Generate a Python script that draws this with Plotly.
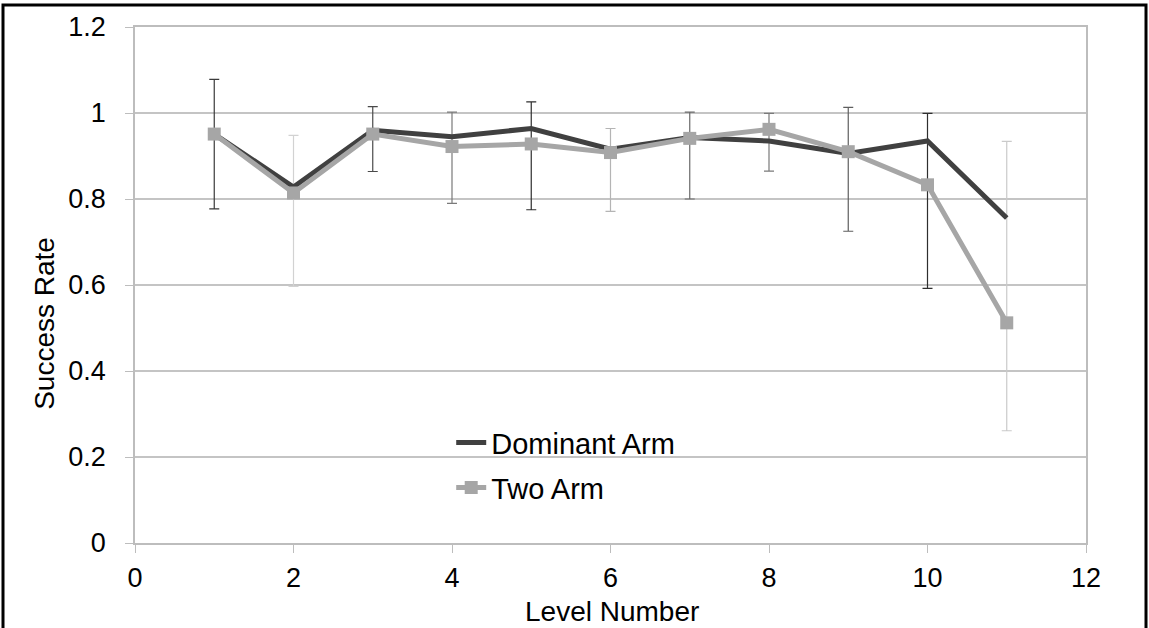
import plotly.graph_objects as go

# ---- data ----
levels = [1, 2, 3, 4, 5, 6, 7, 8, 9, 10, 11]
dominant_arm = [0.951, 0.828, 0.960, 0.945, 0.964, 0.916, 0.943, 0.935, 0.906, 0.935, 0.756]
two_arm = [0.951, 0.814, 0.951, 0.922, 0.928, 0.908, 0.941, 0.962, 0.910, 0.833, 0.512]
err_upper = [1.078, 0.948, 1.015, 1.002, 1.026, 0.964, 1.002, 0.999, 1.013, 0.999, 0.934]
err_lower = [0.777, 0.597, 0.864, 0.790, 0.775, 0.771, 0.800, 0.865, 0.725, 0.592, 0.261]
x_ticks = [0, 2, 4, 6, 8, 10, 12]
y_ticks = [0, 0.2, 0.4, 0.6, 0.8, 1.0, 1.2]

# style per error bar (shade seen in the picture)
err_shade = ["#3a3a3a", "#d2d2d2", "#4a4a4a", "#7a7a7a", "#2e2e2e", "#b4b4b4",
             "#6a6a6a", "#7a7a7a", "#5e5e5e", "#2e2e2e", "#cacaca"]

FONT = "Liberation Sans, Arial, sans-serif"

fig = go.Figure()

for i, lv in enumerate(levels):
    fig.add_trace(go.Scatter(
        x=[lv], y=[two_arm[i]], mode="markers",
        marker=dict(size=1, color="rgba(0,0,0,0)"),
        error_y=dict(type="data", symmetric=False,
                     array=[err_upper[i] - two_arm[i]],
                     arrayminus=[two_arm[i] - err_lower[i]],
                     color=err_shade[i], thickness=1.2, width=5),
        showlegend=False, hoverinfo="skip"))

fig.add_trace(go.Scatter(
    x=levels, y=dominant_arm, mode="lines", name="Dominant Arm",
    line=dict(color="#404040", width=5), legend="legend"))

fig.add_trace(go.Scatter(
    x=levels, y=two_arm, mode="lines+markers", name="Two Arm",
    line=dict(color="#a6a6a6", width=5),
    marker=dict(symbol="square", size=13, color="#a6a6a6"),
    legend="legend2"))

axis_common = dict(showline=True, linecolor="#bdbdbd", linewidth=1.5, mirror=True,
                   ticks="outside", ticklen=8, tickcolor="#bdbdbd", tickwidth=1.2,
                   tickfont=dict(family=FONT, size=27, color="#000"), zeroline=False)

fig.update_layout(
    width=1149, height=628,
    margin=dict(l=135, r=63, t=27, b=84.5),
    paper_bgcolor="white", plot_bgcolor="white",
    font=dict(family=FONT, color="#000"),
    xaxis=dict(range=[0, 12], tickvals=x_ticks, showgrid=False,
               ticklabelstandoff=2, **axis_common),
    yaxis=dict(range=[0, 1.2], tickvals=y_ticks, showgrid=True,
               gridcolor="#c4c4c4", gridwidth=1.5, ticklabelstandoff=14,
               **axis_common),
    legend=dict(x=0.3325, y=0.1946, xanchor="left", yanchor="middle",
                bgcolor="rgba(0,0,0,0)", font=dict(family=FONT, size=29, color="#000")),
    legend2=dict(x=0.3325, y=0.1075, xanchor="left", yanchor="middle",
                 bgcolor="rgba(0,0,0,0)", font=dict(family=FONT, size=29, color="#000")),
    annotations=[
        dict(text="Level Number", xref="paper", yref="paper", x=0.5016, y=-0.1318,
             xanchor="center", yanchor="middle", showarrow=False,
             font=dict(family=FONT, size=28, color="#000")),
        dict(text="Success Rate", xref="paper", yref="paper", x=-0.0945, y=0.425,
             xanchor="center", yanchor="middle", showarrow=False, textangle=-90,
             font=dict(family=FONT, size=28, color="#000")),
    ],
    shapes=[dict(type="rect", xref="paper", yref="paper",
                 x0=-0.1388, x1=1.0631, y0=-0.2, y1=1.0426,
                 line=dict(color="black", width=3), layer="above")],
)

fig.write_html("out.html", config={"displayModeBar": False},
               post_script="document.body.style.margin='0';")
